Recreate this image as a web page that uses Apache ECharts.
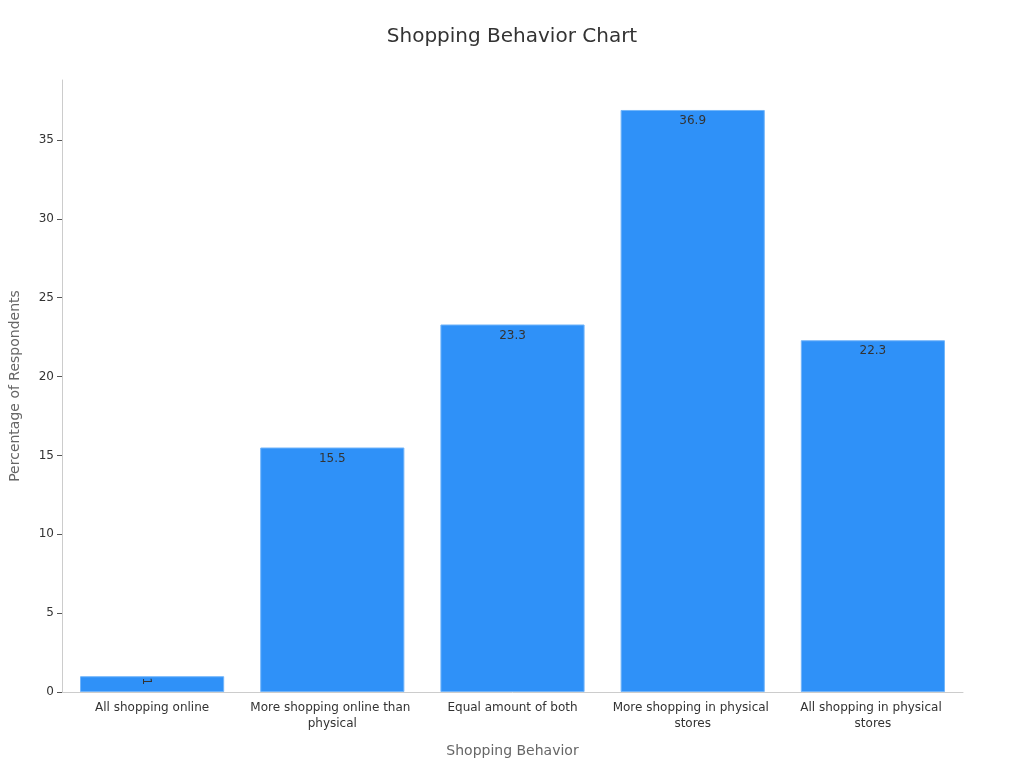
<!DOCTYPE html>
<html>
<head>
<meta charset="utf-8">
<script src="https://cdn.jsdelivr.net/npm/echarts@6/dist/echarts.min.js"></script>
<style>
    html, body { margin: 0; padding: 0; background: #fff; }
    #chart { width: 1024px; height: 768px; }
</style>
</head>
<body>
<div id="chart"></div>
<script>
var categories = [
    'All shopping online',
    'More shopping online than physical',
    'Equal amount of both',
    'More shopping in physical stores',
    'All shopping in physical stores'
];
var values = [1, 15.5, 23.3, 36.9, 22.3];
var yTicks = [0, 5, 10, 15, 20, 25, 30, 35];

function buildData(values) {
    return values.map(function (v) {
        // the tiny first bar had its label turned sideways
        if (v < 2) {
            return { value: v, label: { rotate: -90 } };
        }
        return v;
    });
}

var option = {
    backgroundColor: '#fff',
    textStyle: { fontFamily: 'DejaVu Sans' },
    title: {
        text: 'Shopping Behavior Chart',
        left: 'center',
        top: 22,
        textStyle: {
            fontSize: 20,
            fontWeight: 'normal',
            color: '#333'
        }
    },
    grid: {
        left: 59,
        right: 61,
        top: 80,
        bottom: 76
    },
    xAxis: {
        type: 'category',
        data: categories,
        name: 'Shopping Behavior',
        nameLocation: 'middle',
        nameGap: 52,
        nameTextStyle: { fontSize: 14, color: '#666' },
        axisLine: { lineStyle: { color: '#ccc' } },
        axisTick: { alignWithLabel: true, lineStyle: { color: '#555' } },
        axisLabel: {
            color: '#333',
            fontSize: 12,
            interval: 0,
            width: 176,
            overflow: 'break',
            lineHeight: 16
        }
    },
    yAxis: {
        type: 'value',
        min: 0,
        max: 38.8,
        name: 'Percentage of Respondents',
        nameLocation: 'middle',
        nameGap: 40,
        nameTextStyle: { fontSize: 14, color: '#666' },
        axisLine: { show: true, lineStyle: { color: '#ccc' } },
        axisTick: { show: true, customValues: yTicks, lineStyle: { color: '#555' } },
        axisLabel: { color: '#333', fontSize: 12, customValues: yTicks },
        splitLine: { show: false }
    },
    series: [{
        type: 'bar',
        barWidth: '80%',
        data: buildData(values),
        itemStyle: {
            color: '#2f91f8',
            borderColor: '#72b5fa',
            borderWidth: 1
        },
        label: {
            show: true,
            position: 'insideTop',
            color: '#333',
            fontSize: 12
        }
    }]
};

var myChart = echarts.init(document.getElementById('chart'));
myChart.setOption(option);
</script>
</body>
</html>
